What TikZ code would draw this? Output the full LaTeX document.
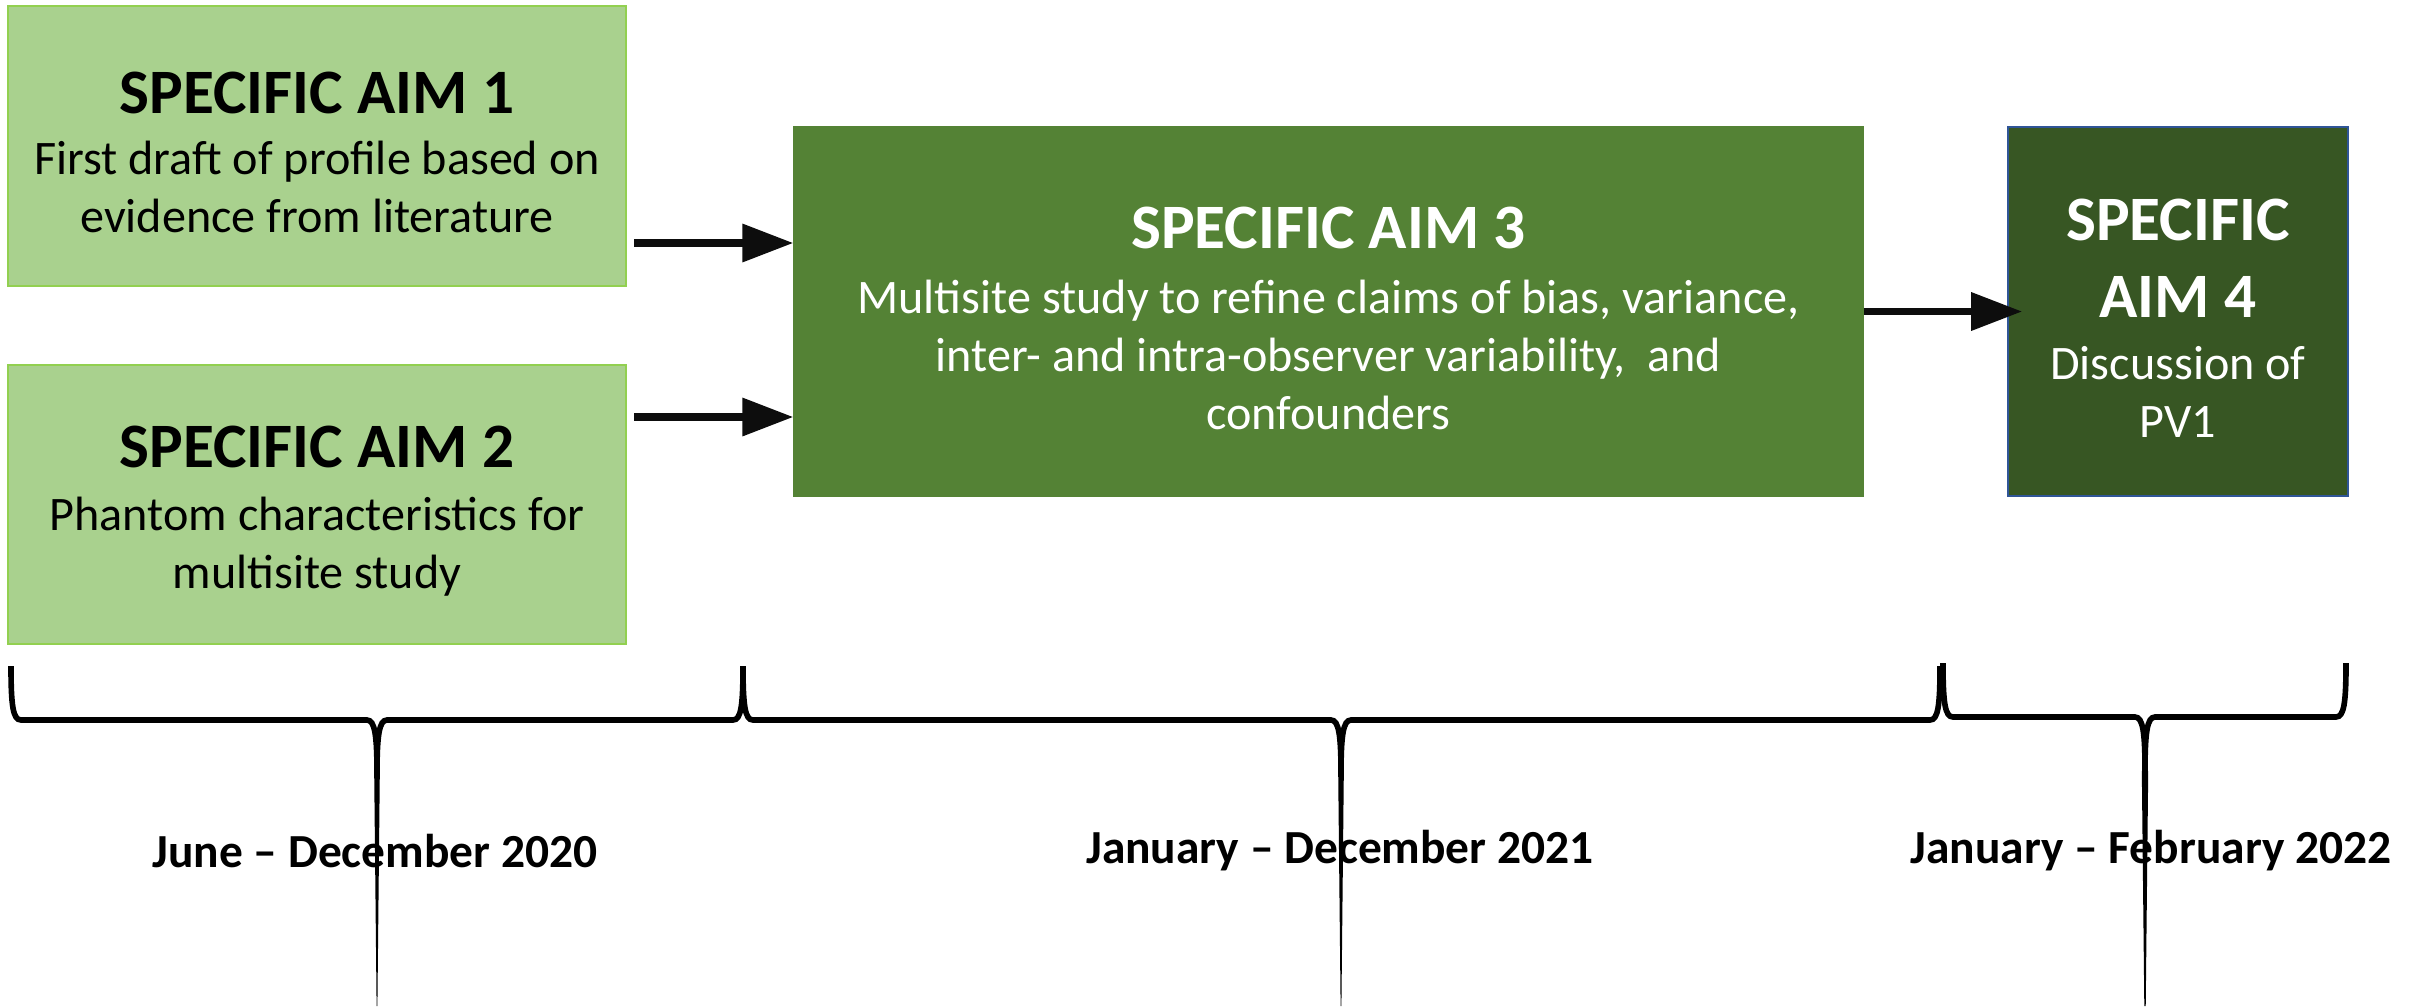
\documentclass[tikz,border=0pt]{standalone}
\usepackage{fontspec}
\setmainfont{Carlito}
\usetikzlibrary{arrows.meta}

\definecolor{aimlight}{HTML}{A9D18E}
\definecolor{aimedge}{HTML}{92D050}
\definecolor{aimmid}{HTML}{548235}
\definecolor{aimdark}{HTML}{375623}
\definecolor{aimblue}{HTML}{2F5597}

% the strut pushes each block of text a little down in its box
\newcommand{\aimtitle}{\fontsize{18}{22}\selectfont\bfseries\rule{0pt}{15.5pt}}
\newcommand{\aimtext}{\fontsize{13.7}{16.5}\selectfont\mdseries}

\tikzset{
  aim/.style={draw, rectangle, inner sep=0pt, align=flush center, font=\aimtext},
  flow/.style={-{Triangle[length=14.5pt,width=10.5pt]}, line width=2pt, black!95},
  bracket/.style={line width=1.6pt},
  period/.style={font=\fontsize{13.5}{16}\selectfont\bfseries}
}

\begin{document}
\begin{tikzpicture}
    \useasboundingbox (0,0) rectangle (24.22,10.06);

    % aims
    \node[aim, fill=aimlight, draw=aimedge, line width=0.6pt, minimum width=6.18cm, minimum height=2.80cm, text width=6.1cm] (A1) at (3.17,8.60)
        {\aimtitle SPECIFIC AIM 1\\[1pt] \aimtext First draft of profile based on\\ evidence from literature};
    \node[aim, fill=aimlight, draw=aimedge, line width=0.6pt, minimum width=6.18cm, minimum height=2.79cm, text width=6.1cm] (A2) at (3.17,5.015)
        {\aimtitle SPECIFIC AIM 2\\[1.5pt] \aimtext Phantom characteristics for\\ multisite study};
    \node[aim, fill=aimmid, draw=aimmid, text=white, minimum width=10.69cm, minimum height=3.69cm, text width=10.5cm] (A3) at (13.285,6.945)
        {\aimtitle SPECIFIC AIM 3\\[2pt] \aimtext Multisite study to refine claims of bias, variance,\\ inter- and intra-observer variability,~ and\\ confounders};
    \node[aim, fill=aimdark, draw=aimblue, line width=0.5pt, text=white, minimum width=3.40cm, minimum height=3.69cm, text width=3.3cm] (A4) at (21.78,6.945)
        {\aimtitle SPECIFIC\\ AIM 4\\[1pt] \aimtext Discussion of\\ PV1};

    \path (A1.east) ++(0.07,-0.97) coordinate (s1);
    \path (A2.east) ++(0.07,0.875) coordinate (s2);
    \draw[flow] (s1) -- (s1 -| A3.west);
    \draw[flow] (s2) -- (s2 -| A3.west);
    \draw[flow] (A3.east) -- ([xshift=0.15cm]A4.west);

    % time braces
    \draw[bracket] (0.11,3.40) .. controls (0.11,3.00) and (0.13,2.86) .. (0.21,2.86) -- (3.67,2.86)
        .. controls (3.75,2.86) and (3.77,2.70) .. (3.77,2.32)
        (7.43,3.40) .. controls (7.43,3.00) and (7.41,2.86) .. (7.33,2.86) -- (3.87,2.86)
        .. controls (3.79,2.86) and (3.77,2.70) .. (3.77,2.32);
    \fill (3.742,2.32) -- (3.766,0) -- (3.774,0) -- (3.798,2.32) -- cycle;

    \draw[bracket] (7.43,3.40) .. controls (7.43,3.00) and (7.45,2.86) .. (7.53,2.86) -- (13.31,2.86)
        .. controls (13.39,2.86) and (13.41,2.70) .. (13.41,2.32)
        (19.40,3.40) .. controls (19.40,3.00) and (19.38,2.86) .. (19.30,2.86) -- (13.51,2.86)
        .. controls (13.43,2.86) and (13.41,2.70) .. (13.41,2.32);
    \fill (13.382,2.32) -- (13.406,0) -- (13.414,0) -- (13.438,2.32) -- cycle;

    \draw[bracket] (19.43,3.43) .. controls (19.43,3.03) and (19.45,2.89) .. (19.53,2.89) -- (21.35,2.89)
        .. controls (21.43,2.89) and (21.45,2.73) .. (21.45,2.35)
        (23.46,3.43) .. controls (23.46,3.03) and (23.44,2.89) .. (23.36,2.89) -- (21.55,2.89)
        .. controls (21.47,2.89) and (21.45,2.73) .. (21.45,2.35);
    \fill (21.418,2.35) -- (21.443,0) -- (21.457,0) -- (21.482,2.35) -- cycle;

    \node[period] (P1) at (3.75,1.55) {June -- December 2020};
    \node[period] (P2) at (13.40,1.55) {January -- December 2021};
    \node[period] (P3) at (21.51,1.55) {January -- February 2022};
\end{tikzpicture}
\end{document}
